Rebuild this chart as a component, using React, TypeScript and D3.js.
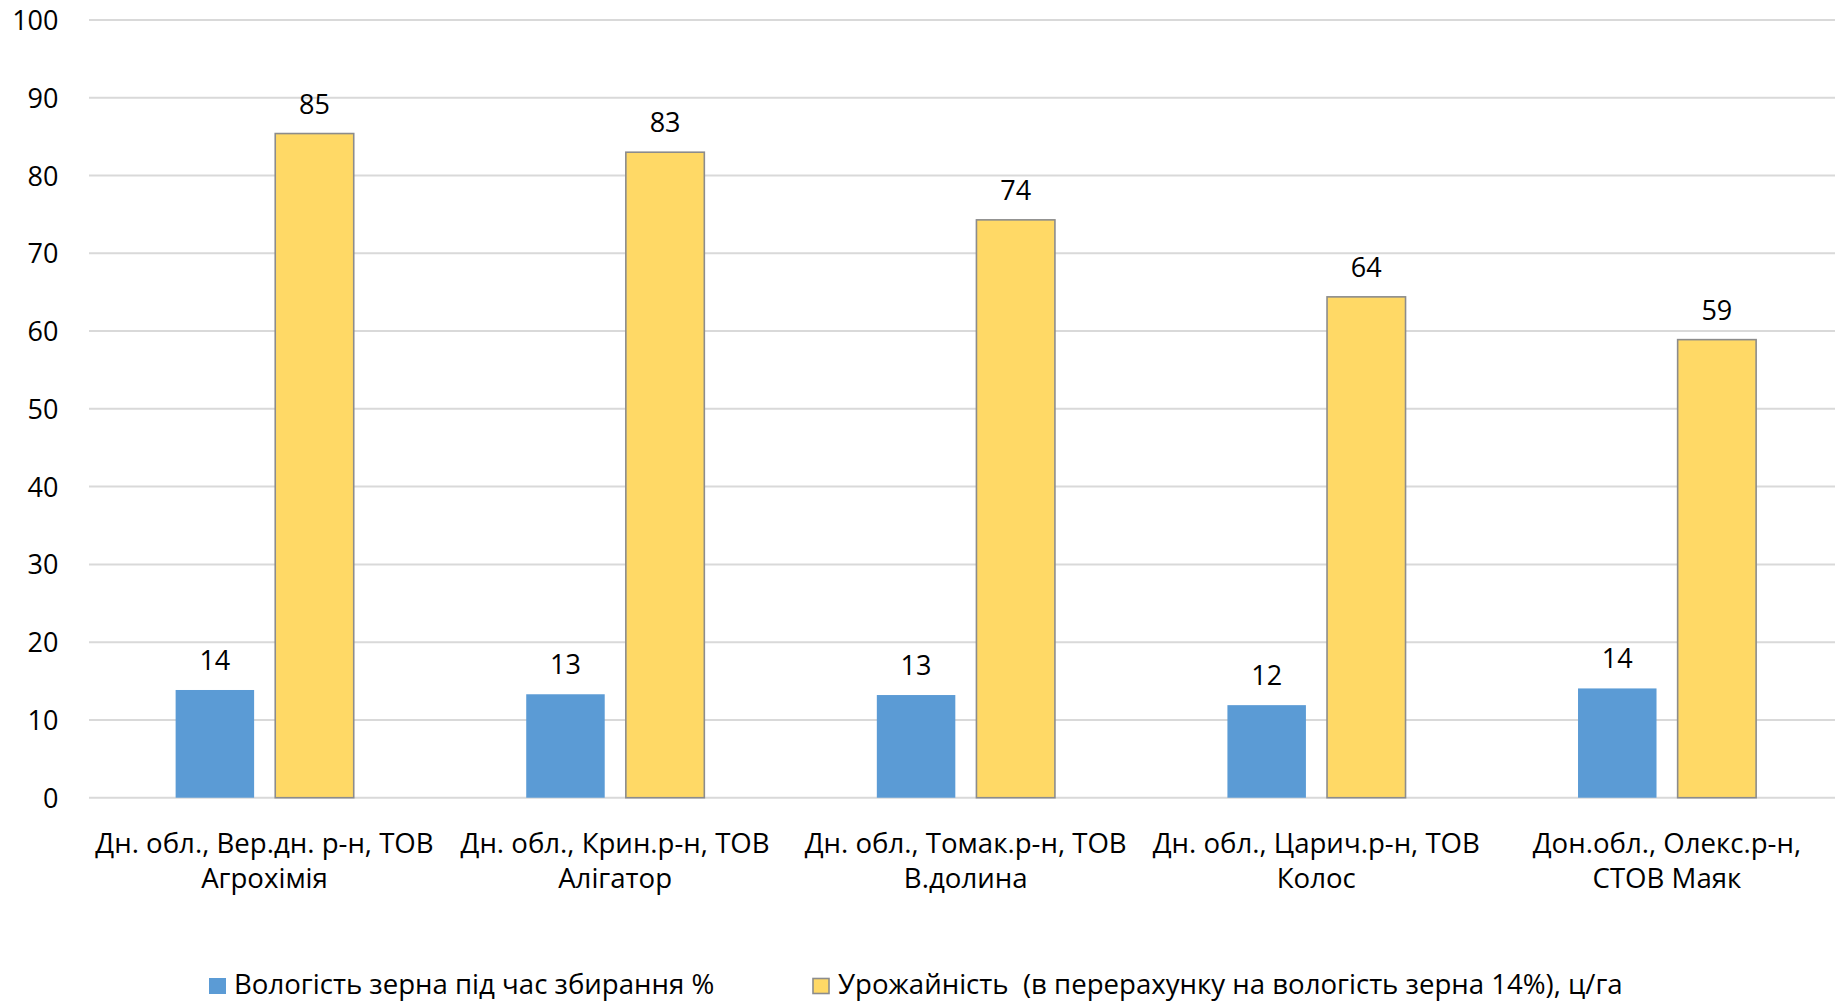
import React from "react";
import * as d3 from "d3";

const categories = [
  ["Дн. обл., Вер.дн. р-н, ТОВ", "Агрохімія"],
  ["Дн. обл., Крин.р-н, ТОВ", "Алігатор"],
  ["Дн. обл., Томак.р-н, ТОВ", "В.долина"],
  ["Дн. обл., Царич.р-н, ТОВ", "Колос"],
  ["Дон.обл., Олекс.р-н,", "СТОВ Маяк"],
];
const moisture = [13.85, 13.3, 13.2, 11.9, 14.05];
const yieldValues = [85.4, 83.0, 74.3, 64.4, 58.9];
const seriesNames = [
  "Вологість зерна під час збирання %",
  "Урожайність  (в перерахунку на вологість зерна 14%), ц/га",
];
const yTicks = [0, 10, 20, 30, 40, 50, 60, 70, 80, 90, 100];

const W = 1835;
const H = 1004;
const FONT = "'Open Sans', sans-serif";
const FS = 27.6;
const FS_NUM = 27;

export default function App() {
  const keys = categories.map((_, i) => String(i));
  const x0 = d3.scaleBand<string>().domain(keys).range([89.2, 1842.2]).padding(0);
  const bw = x0.bandwidth();
  const x1 = d3
    .scaleBand<string>()
    .domain(["m", "y"])
    .range([bw * 0.2465, bw * 0.7545])
    .paddingInner(0.212)
    .paddingOuter(0);
  const y = d3.scaleLinear().domain([0, 100]).range([797.7, 20]);
  const colors = { m: "#5B9BD5", y: "#FFD966" };

  return (
    <svg
      width={W}
      height={H}
      style={{ position: "absolute", left: 0, top: 0, background: "#fff" }}
      fontFamily={FONT}
    >
      <rect x={0} y={0} width={W} height={H} fill="#fff" />
      {yTicks.map((t) => (
        <g key={t}>
          <line x1={89} x2={W} y1={y(t)} y2={y(t)} stroke="#D9D9D9" strokeWidth={2} />
          <text x={58.5} y={y(t) + 10} textAnchor="end" fontSize={FS_NUM} fill="#000">
            {t}
          </text>
        </g>
      ))}
      {keys.map((k, i) => {
        const gx = x0(k)!;
        const cx = gx + bw / 2;
        const mx = gx + x1("m")!;
        const yx = gx + x1("y")!;
        const b = x1.bandwidth();
        return (
          <g key={k}>
            <rect
              x={mx}
              y={y(moisture[i])}
              width={b}
              height={y(0) - y(moisture[i])}
              fill={colors.m}
            />
            <rect
              x={yx}
              y={y(yieldValues[i])}
              width={b}
              height={y(0) - y(yieldValues[i])}
              fill={colors.y}
              stroke="#8C8C8C"
              strokeWidth={1.6}
            />
            <text x={mx + b / 2} y={y(moisture[i]) - 20} textAnchor="middle" fontSize={FS_NUM}>
              {Math.round(moisture[i])}
            </text>
            <text x={yx + b / 2} y={y(yieldValues[i]) - 20} textAnchor="middle" fontSize={FS_NUM}>
              {Math.round(yieldValues[i])}
            </text>
            <text x={cx} y={853} textAnchor="middle" fontSize={FS}>
              {categories[i][0]}
            </text>
            <text x={cx} y={888} textAnchor="middle" fontSize={FS}>
              {categories[i][1]}
            </text>
          </g>
        );
      })}
      <g>
        <rect x={209} y={978} width={17} height={16} fill={colors.m} />
        <text x={234} y={994} fontSize={FS}>
          {seriesNames[0]}
        </text>
        <rect x={813} y={978.5} width={16} height={15} fill={colors.y} stroke="#8C8C8C" strokeWidth={1.6} />
        <text x={838} y={994} fontSize={FS} style={{ whiteSpace: "pre" }}>
          {seriesNames[1]}
        </text>
      </g>
    </svg>
  );
}
